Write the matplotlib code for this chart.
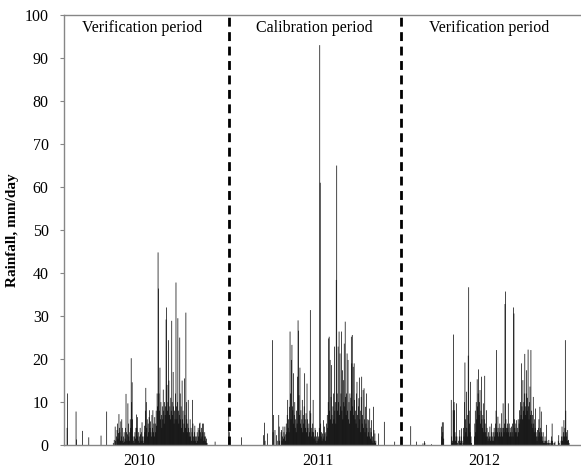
import numpy as np
import matplotlib
matplotlib.use("Agg")
import matplotlib.pyplot as plt

# daily rainfall, mm/day (one value per day from 1 Jan)
rain_2010 = [
    0, 0, 0, 0, 0, 0, 4, 12, 0, 0, 0, 0, 0, 0, 0, 0, 0, 0, 0, 0,
    0, 0, 0, 0, 0, 7.8, 1.3, 0, 0, 0, 0, 0, 0, 0, 0, 0, 0, 0, 0, 3.3,
    0, 0, 0, 0, 0, 0, 0, 0, 0, 0, 0, 0, 1.8, 0, 0, 0, 0, 0, 0, 0,
    0, 0, 0, 0, 0, 0, 0, 0, 0, 0, 0, 0, 0, 0, 0, 0, 0, 0, 2.2, 0,
    0, 0, 0, 0, 0, 0, 0, 0, 0, 0, 7.8, 0, 0, 0, 0, 0, 0, 0, 0, 0,
    0, 0, 0, 0, 0.5, 0, 1.2, 0, 4.3, 1, 0, 2, 3.5, 5, 1.5, 2.8, 7.2, 4, 3, 1,
    5.5, 2, 6, 4, 1, 0.5, 2, 3, 0.8, 1.5, 4, 11.9, 3, 1, 2.5, 9.7, 5, 2, 1, 3,
    6, 4, 20.2, 10, 14.6, 6, 2, 1, 0.5, 2, 3, 1.5, 4, 7.1, 4, 6.5, 2, 3, 1, 0.5,
    2, 4, 2.5, 1, 3, 5.3, 2, 1, 0.5, 2, 4.5, 3, 8, 13.3, 10, 4, 6, 2, 5, 3,
    6.5, 8.1, 4, 5.5, 3, 2, 7, 4, 8.1, 3, 5, 2, 6.5, 5, 3, 8, 4.5, 12, 9, 44.8,
    36.4, 12, 8, 18, 6, 10, 7, 4, 9, 6, 12.9, 8, 5, 10, 7, 9, 29.2, 32, 14, 8,
    10, 24.4, 15, 7, 9, 6, 11, 8, 28.9, 10, 7, 17, 9, 5, 8, 6, 12, 37.8, 9, 6,
    10, 29.5, 8, 5, 7, 25, 12, 6, 9, 4, 15, 6, 8, 3, 5, 15.5, 7, 4, 30.8, 10,
    6, 3, 5, 10.5, 4, 2, 3, 6, 2, 4, 1, 3, 10.5, 5, 2, 1, 3, 4.5, 2, 1,
    0.5, 2, 3, 1, 4, 2, 3.5, 5, 5.2, 3, 1.5, 4, 2, 5, 3, 5, 1, 2, 3, 1,
    2, 0.5, 1.5, 0.5, 0, 0, 0, 0, 0, 0, 0, 0, 0, 0, 0, 0, 0, 0, 0, 0,
    0.8, 0, 0, 0, 0, 0, 0, 0, 0, 0, 0, 0, 0, 0, 0, 0, 0, 0, 0, 0,
    0, 0, 0, 0, 0, 0, 0, 0, 0, 8.5, 3, 0, 0, 0, 0, 0, 0, 0, 0, 0,
    0, 0, 0, 0, 0,
]

rain_2011 = [
    0, 0, 0, 0, 0, 0, 0, 0, 0, 0, 0, 1.8, 0, 0, 0, 0, 0, 0, 0, 0,
    0, 0, 0, 0, 0, 0, 0, 0, 0, 0, 0, 0, 0, 0, 0, 0, 0, 0, 0, 0,
    0, 0, 0, 0, 0, 0, 0, 0, 0, 0, 0, 0, 0, 0, 0, 0, 0, 0, 2.3, 0,
    5.2, 1, 0, 0, 0, 0, 2.7, 0, 0, 0, 0, 0, 0, 0, 0, 0, 0, 24.4, 3, 7,
    0, 0, 3.5, 0, 0, 2.3, 0, 0, 1, 0, 7, 4.3, 1, 0, 0, 3, 3.5, 1, 2, 4.3,
    1.5, 3, 2, 4.3, 1, 2.5, 5, 3, 7, 10.5, 4, 6, 3, 8.9, 26.4, 12, 6, 19.8, 23.3, 9,
    8.1, 16.7, 5, 7, 10, 4, 6, 3, 8, 5, 15.9, 29, 26.6, 11.6, 7, 18, 5, 8.1, 4, 6,
    10.5, 3, 7, 5, 9, 16.7, 6, 4, 7.4, 3, 14.3, 6, 4, 2, 5, 3, 8, 31.4, 7.4, 4,
    2, 3.1, 5, 10.5, 3, 1.5, 2, 4, 3.5, 1, 2, 0.5, 3, 1, 2, 1.5, 4, 93, 61, 5,
    2, 3, 1, 2.7, 1.5, 5.8, 2, 4.3, 2.7, 1, 3, 5, 2, 7, 4, 10, 24.8, 25.2, 8, 19.8,
    6, 11.2, 18.6, 7, 5, 9, 12, 6, 22.9, 8, 10, 5, 38.4, 65, 12, 8, 22.9, 10, 26.4, 7,
    21.3, 9, 12, 26.4, 8, 17.4, 6, 15.1, 10, 23.6, 9, 28.7, 11.2, 7, 12, 21.3, 8, 19.8, 6, 10,
    5, 12, 8, 11, 25.2, 19, 25.6, 9, 18.2, 7, 19, 10.5, 6, 8, 5, 12, 14.7, 7, 4, 9,
    10.9, 15.7, 6, 8, 3, 11.2, 15.9, 5, 7, 12.8, 4, 13.2, 6, 3, 8.9, 5, 12, 4, 2, 6,
    3, 5.8, 2, 8.5, 4, 1.5, 3, 5.8, 1, 2, 0.5, 8.9, 3.5, 1, 2.7, 0.5, 1, 0, 0, 0,
    0, 0, 2.7, 0, 0, 0, 0, 0, 0, 0, 0, 0, 0, 0, 5.4, 0, 0, 0, 0, 0,
    0, 0, 0, 0, 0, 0, 0, 0, 0, 0, 0, 0, 0, 0, 0, 0, 0.8, 0, 0, 0,
    0, 0, 0, 0, 0, 0, 0, 0, 0, 0, 0, 0, 0, 0, 0, 0, 0, 0, 0, 0,
    0, 0, 0, 0, 0,
]

rain_2012 = [
    0, 0, 0, 0, 0, 4.4, 0, 0, 0, 0, 0, 0, 0, 0, 0, 0, 0, 0.8, 0, 0,
    0, 0, 0, 0, 0, 0, 0, 0, 0, 0, 0, 0.4, 0, 0, 0.9, 0.5, 0, 0, 0, 0,
    0, 0, 0, 0, 0, 0, 0, 0, 0, 0.2, 0, 0, 0, 0, 0, 0, 0, 0, 0, 0,
    0, 0, 0, 0, 0, 0, 0, 0, 0, 0, 4.3, 2, 5.3, 3, 5.3, 1.5, 0, 0, 0, 0,
    0, 0, 0, 0, 0, 0, 0, 0, 0, 0, 0, 10.5, 2, 0.5, 1, 8.1, 25.7, 10, 8.1, 3,
    1, 2, 9.7, 2, 0.5, 0, 1, 0, 2, 3.5, 1, 0.5, 2, 3.9, 1, 0, 0.5, 4, 2, 10,
    19.2, 6, 3, 12.4, 4, 2, 7, 20.8, 36.7, 8, 5, 3, 14.7, 2, 0.5, 0, 0, 0, 0, 0,
    2, 5, 8, 3, 10, 6, 15.3, 9, 12, 17.6, 7, 10, 12.8, 5, 8, 15.9, 6, 4, 7, 9.7,
    3, 6, 16.1, 5, 3, 2, 8.1, 4, 2, 1, 3, 1.5, 2, 4.3, 1, 2, 5, 3, 1, 2,
    3, 1, 4, 2, 3, 5, 8, 22.1, 4, 3, 6.6, 2, 4, 3, 5, 2, 4, 3, 7.4, 4,
    2, 9.7, 4, 3, 5, 32.8, 35.7, 6, 4, 3, 5, 4, 9.7, 3, 5, 2, 4, 3, 2, 4.3,
    3, 5, 2, 32, 30.6, 6, 4, 3, 5, 5.8, 3, 2, 4, 6, 3, 5, 8.1, 6, 10, 7,
    19, 9, 6, 15.1, 8, 10, 12, 21.2, 9, 7, 12, 17.4, 8, 11, 22.2, 9, 6, 10, 13.6, 7,
    22.1, 8, 5, 7, 4, 11.2, 5, 3, 6, 4, 8.5, 3, 2, 1, 3.5, 2, 4, 6, 3, 8.9,
    4, 2, 7.8, 3, 2, 1, 3, 0.5, 1, 0.5, 2, 1, 0.5, 4.7, 1, 0.5, 0, 0.5, 1.2, 0.5,
    0, 0.5, 0, 1, 2, 5, 1, 0.5, 0, 0, 0.5, 0.8, 0, 0, 0, 0, 0, 0, 1, 2.3,
    0.5, 0, 0, 0, 1, 2, 4.3, 1, 2, 3, 5.8, 2, 4, 24.4, 8, 3, 2, 1, 3.5, 1,
    1.2, 0.5, 0, 0, 0, 0, 0, 0, 0, 0, 0, 0, 0, 0, 0, 0, 0, 0, 0, 0,
    0, 0, 0, 0, 0, 0,
]

years = ["2010", "2011", "2012"]
periods = ["Verification period", "Calibration period", "Verification period"]
period_bounds = [350, 715]  # day index where the periods switch

rain = np.concatenate([rain_2010, rain_2011, rain_2012])
days = np.arange(len(rain))

plt.rcParams["font.family"] = "Liberation Serif"

fig = plt.figure(figsize=(5.81, 4.70), dpi=100)
ax = fig.add_axes([0.110, 0.053, 0.890, 0.915])

# thin daily bars, a bit wider than a day so wet spells fill in black
ax.bar(days, rain, width=1.5, align="edge", color="black", linewidth=0,
       snap=False)

for b in period_bounds:
    ax.axvline(b, color="black", lw=2.0, linestyle=(0, (3.2, 2)))

for xp, txt in zip([165, 532, 903], periods):
    ax.text(xp, 97, txt, ha="center", va="center", fontsize=11.5)

ax.set_xlim(0, 1097)
ax.set_ylim(0, 100)
ax.set_yticks(np.arange(0, 101, 10))
ax.set_xticks([159, 539, 891])
ax.set_xticklabels(years)
ax.tick_params(axis="x", length=0, pad=6, labelsize=11.5)
ax.tick_params(axis="y", direction="out", length=3, color="#868686",
               pad=8, labelsize=11.5)
ax.set_ylabel("Rainfall, mm/day", fontweight="bold", fontsize=11, labelpad=4)

for s in ["left", "top", "bottom"]:
    ax.spines[s].set_color("#868686")
    ax.spines[s].set_linewidth(1)
ax.spines["right"].set_visible(False)

fig.savefig("out.png", dpi=100)
